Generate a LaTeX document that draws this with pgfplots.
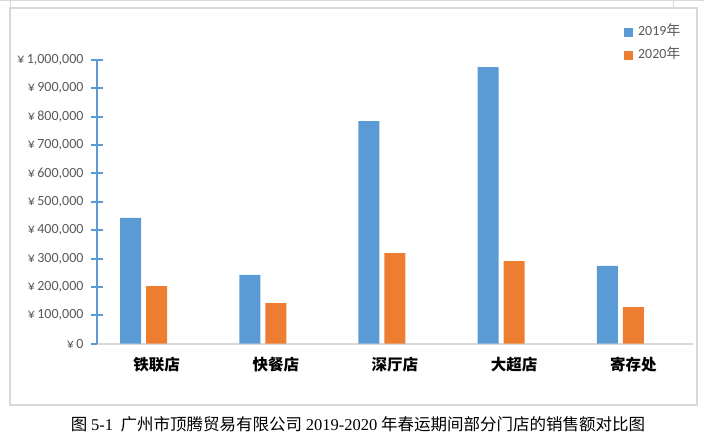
\documentclass[border=0pt]{standalone}
\usepackage{fontspec}
\setmainfont{Carlito}
\newfontfamily\cjk{Noto Sans CJK SC}
\newfontfamily\capserif{Liberation Serif}
\usepackage{pgfplots}
\pgfplotsset{compat=1.18}

\definecolor{bar19}{HTML}{5B9BD5}
\definecolor{bar20}{HTML}{ED7D31}
\definecolor{txtgray}{HTML}{595959}
\definecolor{framegray}{HTML}{D9D9D9}

\begin{document}
\begin{tikzpicture}[x=1pt,y=1pt]
\useasboundingbox (-97,-96.3) rectangle (607,343.7);
% page rules around the chart
\draw[framegray, line width=1pt] (-97,342.7) -- (607,342.7);
\draw[framegray, line width=1pt] (-86.5,343.7) -- (-86.5,335.4);
\draw[framegray, line width=1pt] (576,343.7) -- (576,335.4);
\draw[framegray, line width=2pt] (-86.5,335.4) rectangle (600,-61.3);

\begin{axis}[
    at={(0,0)}, anchor=south west,
    scale only axis,
    width=596pt, height=284pt,
    xmin=-0.5, xmax=4.5,
    ymin=0, ymax=1000000,
    axis lines=left,
    axis line style={-},
    x axis line style={framegray, line width=2pt},
    y axis line style={bar19, line width=2pt},
    xtick={0,1,2,3,4},
    xticklabels={铁联店,快餐店,深厅店,大超店,寄存处},
    xtick style={draw=none},
    xticklabel style={font=\cjk\bfseries\fontsize{15.5}{16}\selectfont, text=black, yshift=-4pt},
    ytick={0,100000,200000,300000,400000,500000,600000,700000,800000,900000,1000000},
    yticklabels={{¥\,0},{¥\,100,000},{¥\,200,000},{¥\,300,000},{¥\,400,000},{¥\,500,000},
                 {¥\,600,000},{¥\,700,000},{¥\,800,000},{¥\,900,000},{¥\,1,000,000}},
    yticklabel style={font=\fontsize{14}{15}\selectfont, text=txtgray, xshift=-4pt},
    ytick style={bar19, line width=2pt},
    major tick length=12pt,
    tick align=center,
    scaled y ticks=false,
    clip=false,
    legend cell align=left,
    legend image code/.code={\fill[#1] (0pt,-4.5pt) rectangle (9pt,4.5pt);},
    legend style={
        at={(axis description cs:0.884,1.124)}, anchor=north west,
        draw=none, fill=none, inner sep=0pt, row sep=8pt,
        nodes={inner sep=1pt, text height=10pt, text depth=3pt,
               font=\fontsize{14}{15}\selectfont, text=txtgray},
        /tikz/every odd column/.append style={column sep=4pt},
    },
]
\addplot[ybar, bar width=21pt, bar shift=-26pt, fill=bar19, draw=none]
    coordinates {(0,443000) (1,242000) (2,784000) (3,974000) (4,274000)};
\addlegendentry{2019{\cjk 年}}
\addplot[ybar, bar width=21pt, bar shift=0pt, fill=bar20, draw=none]
    coordinates {(0,203000) (1,143000) (2,319000) (3,291000) (4,129000)};
\addlegendentry{2020{\cjk 年}}
\end{axis}

\node[font=\fontsize{16.5}{18}\selectfont, text=black] at (261,-80.3)
    {{\cjk 图} {\capserif 5-1}\ \ {\cjk 广州市顶腾贸易有限公司} {\capserif 2019-2020} {\cjk 年春运期间部分门店的销售额对比图}};
\end{tikzpicture}
\end{document}
